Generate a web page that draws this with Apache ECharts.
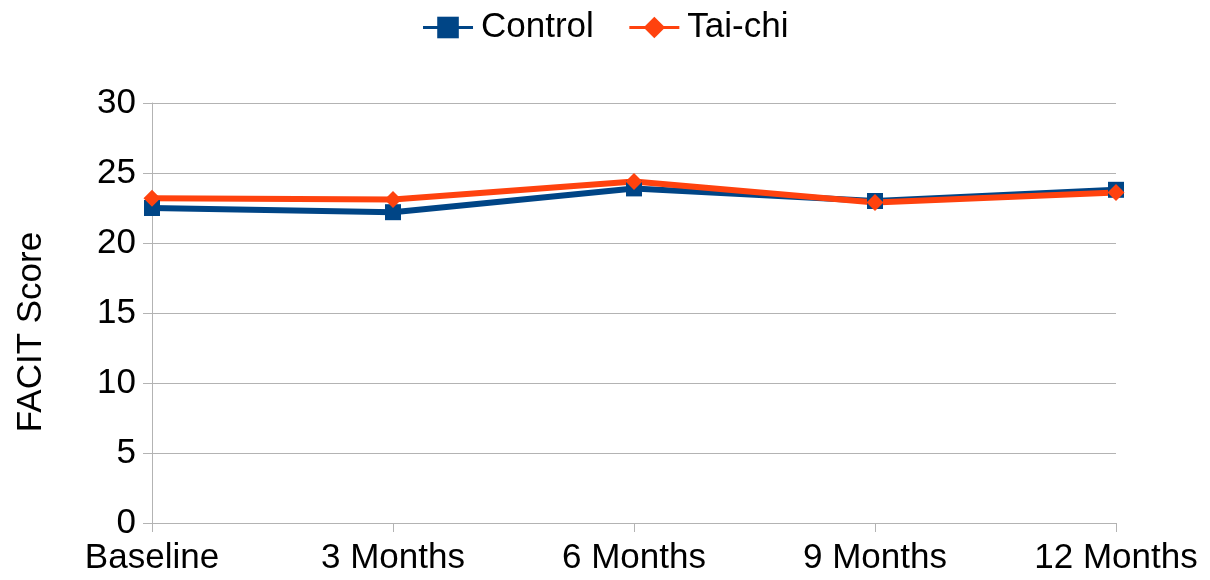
<!DOCTYPE html>
<html>
<head>
<meta charset="utf-8">
<script src="https://cdn.jsdelivr.net/npm/echarts@6/dist/echarts.min.js"></script>
<style>
  html, body { margin: 0; padding: 0; background: #fff; }
  #chart { width: 1210px; height: 580px; }
</style>
</head>
<body>
<div id="chart"></div>
<script>
// FACIT fatigue scores by visit
const categories = ['Baseline', '3 Months', '6 Months', '9 Months', '12 Months'];
const controlScores = [22.5, 22.2, 23.9, 23.0, 23.8];
const taichiScores = [23.2, 23.1, 24.4, 22.9, 23.6];
const yTicks = { min: 0, max: 30, interval: 5 };

const FONT = '"Liberation Sans", Arial, sans-serif';
const FONT_SIZE = 35;
const GRID_GRAY = '#b3b3b3';

const chart = echarts.init(document.getElementById('chart'), null, { renderer: 'canvas' });

chart.setOption({
  animation: false,
  backgroundColor: '#ffffff',
  textStyle: { fontFamily: FONT },
  legend: {
    top: 5,
    left: 'center',
    itemWidth: 50,
    itemHeight: 27,
    itemGap: 34,
    lineStyle: { width: 3 },
    textStyle: { fontFamily: FONT, fontSize: FONT_SIZE, color: '#000', padding: [0, 0, 0, 3] },
    data: ['Control', 'Tai-chi']
  },
  grid: { left: 152, right: 94, top: 103, bottom: 57, containLabel: false },
  graphic: [
    {
      type: 'text',
      x: 31,
      y: 332,
      rotation: Math.PI / 2,
      style: {
        text: 'FACIT Score',
        fontFamily: FONT,
        fontSize: FONT_SIZE,
        fill: '#000',
        align: 'center',
        verticalAlign: 'middle'
      }
    }
  ],
  xAxis: {
    type: 'category',
    data: categories,
    boundaryGap: false,
    axisLine: { show: true, lineStyle: { color: GRID_GRAY, width: 1 } },
    axisTick: { show: true, length: 9, alignWithLabel: true, lineStyle: { color: GRID_GRAY } },
    axisLabel: { fontFamily: FONT, fontSize: FONT_SIZE, color: '#000', margin: 18, interval: 0 },
    splitLine: { show: false }
  },
  yAxis: {
    type: 'value',
    min: yTicks.min,
    max: yTicks.max,
    interval: yTicks.interval,
    axisLine: { show: true, lineStyle: { color: GRID_GRAY, width: 1 } },
    axisTick: { show: true, length: 9, lineStyle: { color: GRID_GRAY } },
    axisLabel: { fontFamily: FONT, fontSize: FONT_SIZE, color: '#000', margin: 16 },
    splitLine: { show: true, lineStyle: { color: GRID_GRAY, width: 1 } }
  },
  series: [
    {
      name: 'Control',
      type: 'line',
      data: controlScores,
      symbol: 'rect',
      symbolSize: 16,
      color: '#004586',
      lineStyle: { color: '#004586', width: 6 },
      itemStyle: { color: '#004586' }
    },
    {
      name: 'Tai-chi',
      type: 'line',
      data: taichiScores,
      symbol: 'diamond',
      symbolSize: 17,
      color: '#ff420e',
      lineStyle: { color: '#ff420e', width: 6 },
      itemStyle: { color: '#ff420e' }
    }
  ]
});
</script>
</body>
</html>
